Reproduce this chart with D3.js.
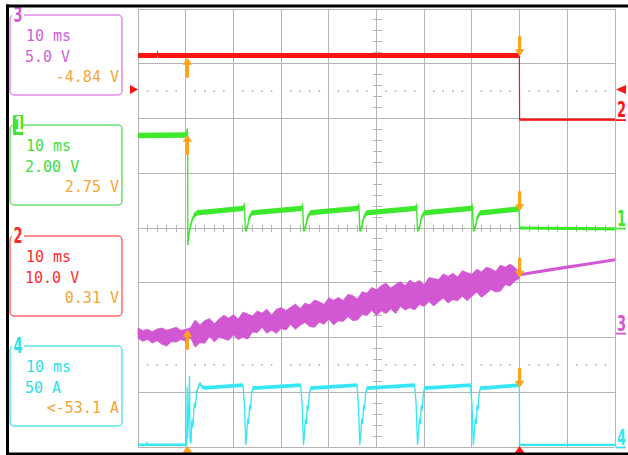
<!DOCTYPE html>
<html><head><meta charset="utf-8">
<script src="https://cdn.jsdelivr.net/npm/d3@7"></script>
<style>html,body{margin:0;padding:0;background:#fff;}svg{display:block;}</style>
</head><body>
<svg id="c" width="628" height="455"></svg>
<script>
// ---------------- DATA ----------------
const timeTicks = [0,10,20,30,40,50,60,70,80,90,100];   // ms (10 ms/div)
const divTicks  = [-4,-3,-2,-1,0,1,2,3,4];               // vertical divisions
const dottedDivs = [2.5,-2.5];

// channel settings (units per division, ground offset in divisions)
const chPerDiv    = {1:2, 2:10, 3:5, 4:50};
const chOffsetDiv = {1:0, 2:1.98, 3:-1.92, 4:-4};

// channel readout boxes (left panel, top to bottom)
const boxChannels = [3,1,2,4];
const boxTimebase = ["10 ms","10 ms","10 ms","10 ms"];
const boxScale    = ["5.0 V","2.00 V","10.0 V","50 A"];
const boxReadout  = ["-4.84 V","2.75 V","0.31 V","<-53.1 A"];

// Channel 2 (red, V)
const ch2 = [[0,11.7],[4.0,11.7],[4.1,12.4],[4.2,11.7],[79.95,11.7],[80,0],[100,0]];
// Channel 1 (green, V)
const ch1 = [[0,3.38],[10.2,3.40],[10.3,3.62],[10.4,3.38],[10.45,-0.62],[10.6,-0.3],[10.8,-0.1],[11.2,0.22],[11.8,0.47],[12.5,0.56],[14,0.58],
 [22.1,0.72],[22.3,0.88],[22.5,-0.07],[22.9,0.0],[23.3,0.37],[23.9,0.55],[25,0.57],
 [34.3,0.72],[34.5,0.86],[34.7,-0.07],[35.1,0],[35.5,0.37],[36.1,0.55],[37,0.57],
 [46.1,0.72],[46.3,0.86],[46.5,-0.07],[46.9,0],[47.3,0.37],[47.9,0.55],[49,0.57],
 [58.2,0.72],[58.4,0.86],[58.6,-0.07],[59.0,0],[59.4,0.37],[60.0,0.55],[61,0.57],
 [69.9,0.72],[70.1,0.86],[70.3,-0.07],[70.7,0],[71.1,0.37],[71.7,0.55],[73,0.57],
 [79.9,0.70],[80.0,0.0],[100,-0.03]];
// Channel 3 (magenta, V): noisy envelope (upper / lower) sampled each 1 ms from 0 to 80 ms
const ch3Hi = [0.46,0.24,0.35,0.13,0.37,0.46,0.27,0.39,0.54,0.26,0.34,0.50,1.19,0.75,1.16,1.32,0.86,1.30,1.63,1.37,
 1.68,1.29,1.90,1.75,1.56,2.02,1.83,2.19,1.65,2.17,2.34,2.07,2.36,2.65,2.24,2.73,2.58,3.02,2.86,2.62,
 3.24,3.00,3.26,2.98,3.53,3.43,3.12,3.78,3.65,4.17,3.95,4.34,4.56,4.12,4.44,4.70,4.34,4.83,4.56,4.80,
 4.41,5.07,4.98,4.89,5.41,5.19,5.46,5.13,5.70,5.52,5.38,5.83,5.60,6.01,5.88,5.64,6.21,6.01,6.31,6.00,5.57];
const ch3Lo = [-0.46,-0.75,-0.58,-0.91,-0.70,-1.01,-1.17,-0.78,-0.81,-0.59,-0.74,-0.45,-1.28,-0.86,-0.93,-0.31,-0.80,-0.38,-0.52,-0.66,
 -0.16,-0.59,-0.37,-0.55,0.10,0.04,0.52,-0.01,0.26,-0.02,0.42,0.28,0.79,0.35,0.71,0.98,0.60,0.53,1.00,0.81,
 1.28,0.75,1.12,1.06,1.50,1.15,1.19,1.69,1.60,2.06,1.62,2.01,1.80,2.20,1.79,2.43,2.12,2.32,2.12,2.62,
 2.44,2.88,2.47,2.87,3.21,2.75,3.05,2.96,3.36,2.96,3.36,3.74,3.27,3.60,3.98,3.76,3.84,4.44,4.30,4.75,5.02];
const ch3SampleMs = 1;
const ch3After = [[80,5.33],[85,5.68],[90,6.02],[95,6.36],[100,6.70]];
// Channel 4 (cyan, A)
const ch4 = [[0,2],[1.8,2],[1.9,3.5],[2.0,2],[10.2,2],[10.3,55],[10.4,8],[10.6,30],[10.8,65],[10.9,6],[11.1,4],[11.3,25],[11.5,18],[11.8,40],[12.0,36],[12.3,50],[12.6,54],[13.0,58],[13.4,55],[14,54],
 [22.0,56.5],[22.3,40],[22.6,2],[22.8,12],[23.0,26],[23.2,21],[23.4,38],[23.6,34],[23.8,48],[24.1,54],[25,54],
 [34.1,56.5],[34.4,40],[34.7,2],[34.9,12],[35.1,26],[35.3,21],[35.5,38],[35.7,34],[35.9,48],[36.2,54],[37,54],
 [45.9,56.5],[46.2,40],[46.5,2],[46.7,12],[46.9,26],[47.1,21],[47.3,38],[47.5,34],[47.7,48],[48.0,54],[49,54],
 [58.0,56.5],[58.3,40],[58.6,2],[58.8,12],[59.0,26],[59.2,21],[59.4,38],[59.6,34],[59.8,48],[60.1,54],[61,54],
 [69.7,56.5],[70.0,40],[70.3,2],[70.5,12],[70.7,26],[70.9,21],[71.1,38],[71.3,34],[71.5,48],[71.8,54],[73,54],
 [79.95,56.5],[80.0,2],[100,2]];

const triggerLevelV = 5.5;          // ch2 trigger level
const triggerTime = 80;             // trigger position marker (ms)
const cursorTimes = [10.35, 80];    // cursor markers (ms)
const arrowsUp   = [[2,11.3],[1,3.41],[3,0.31],[4,1.1]];   // [channel, value] at first cursor
const arrowsDown = [[2,11.56],[1,0.61],[3,5.06],[4,54.1]]; // [channel, value] at second cursor

// ---------------- DRAW ----------------
const col = {1:"#3ee82c", 2:"#ff1414", 3:"#d257d2", 4:"#36e6f4"};
const txtCol = {1:"#3fdc3f", 2:"#ff2e2e", 3:"#cf5fd6", 4:"#2fdfe8"};
const boxCol = {1:"#6fdd6f", 2:"#ff6a6a", 3:"#e08fe6", 4:"#5fe3ee"};
const orange = "#ffa31e";
const orangeTxt = "#f5a535";

const svg = d3.select("#c");
const x = d3.scaleLinear().domain([0,100]).range([138,615]);
const yDiv = d3.scaleLinear().domain([-4,4]).range([447,9]);
const yCh = ch => d3.scaleLinear()
  .domain([(-4 - chOffsetDiv[ch]) * chPerDiv[ch], (4 - chOffsetDiv[ch]) * chPerDiv[ch]])
  .range([447,9]);

// grid
const grid = svg.append("g").attr("stroke","#b4b4b4").attr("stroke-width",1).attr("shape-rendering","crispEdges");
grid.selectAll(".v").data(timeTicks).join("line")
  .attr("x1",d=>x(d)).attr("x2",d=>x(d)).attr("y1",yDiv(4)).attr("y2",yDiv(-4));
grid.selectAll(".h").data(divTicks).join("line")
  .attr("y1",d=>yDiv(d)).attr("y2",d=>yDiv(d)).attr("x1",x(0)).attr("x2",x(100));
// minor ticks on center lines
const minorT = d3.range(0,100.01,2).filter(t=>t%10!==0);
const minorD = d3.range(-4,4.001,0.2).filter(d=>Math.abs(d-Math.round(d))>0.01);
grid.selectAll(".mt").data(minorT).join("line")
  .attr("x1",d=>x(d)).attr("x2",d=>x(d)).attr("y1",yDiv(0)-3).attr("y2",yDiv(0)+4);
grid.selectAll(".md").data(minorD).join("line")
  .attr("y1",d=>yDiv(d)).attr("y2",d=>yDiv(d)).attr("x1",x(50)-4).attr("x2",x(50)+5);
// dotted lines
const dots = [];
dottedDivs.forEach(dv=>minorT.forEach(t=>dots.push([t,dv])));
svg.append("g").selectAll("rect").data(dots).join("rect")
  .attr("x",d=>x(d[0])-0.75).attr("y",d=>yDiv(d[1])-0.75).attr("width",1.5).attr("height",1.5).attr("fill","#a8a8a8");

// traces
const traces = svg.append("g");
function band(data, ch, hw, t0, t1){
  const ys = yCh(ch);
  const seg = data.filter(d=>d[0]>=t0 && d[0]<=t1);
  const area = d3.area().x(d=>x(d[0])).y0(d=>ys(d[1])+hw).y1(d=>ys(d[1])-hw);
  traces.append("path").attr("d",area(seg)).attr("fill",col[ch]);
}
function thin(data, ch, lw){
  const ys = yCh(ch);
  const line = d3.line().x(d=>x(d[0])).y(d=>ys(d[1]));
  traces.append("path").attr("d",line(data)).attr("fill","none").attr("stroke",col[ch]).attr("stroke-width",lw);
}
// ch2
band(ch2,2,2.5,0,79.95); band(ch2,2,1.1,80,100); thin(ch2,2,1.2);
// ch1
band(ch1,1,2.7,0,10.4); band(ch1,1,2.6,10.45,79.9); band(ch1,1,1.6,80,100); thin(ch1,1,1.4);
// ch3 noisy envelope
{
  const ys = yCh(3);
  const env = ch3Hi.map((h,i)=>({t:i*ch3SampleMs, hi:h, lo:ch3Lo[i]}));
  const area = d3.area().x(d=>x(d.t)).y0(d=>ys(d.lo)).y1(d=>ys(d.hi));
  traces.append("path").attr("d",area(env)).attr("fill",col[3]);
  traces.append("path").attr("d",area(env)).attr("fill","none").attr("stroke",col[3]).attr("stroke-width",0.8);
  band(ch3After,3,1.6,80,100);
}
// ch4
band(ch4,4,1.2,0,10.2); band(ch4,4,1.9,10.3,79.95); band(ch4,4,1.1,80,100); thin(ch4,4,1.3);

// arrows
const ar = svg.append("g").attr("fill",orange);
function arrow(t, ch, v, dir){ // dir -1 = pointing up, +1 = pointing down
  const px = x(t), tip = yCh(ch)(v);
  const s = -dir;
  const p = `M${px},${tip} L${px+4.8},${tip+7*s} L${px+1.6},${tip+7*s} L${px+1.6},${tip+20*s} L${px-1.6},${tip+20*s} L${px-1.6},${tip+7*s} L${px-4.8},${tip+7*s} Z`;
  ar.append("path").attr("d",p);
}
arrowsUp.forEach(a=>arrow(cursorTimes[0],a[0],a[1],-1));
arrowsDown.forEach(a=>arrow(cursorTimes[1],a[0],a[1],1));

// trigger markers
const ty = yCh(2)(triggerLevelV);
svg.append("path").attr("d",`M130,${ty-4.5} L138,${ty} L130,${ty+4.5} Z`).attr("fill",col[2]);
svg.append("path").attr("d",`M626,${ty-4.5} L616,${ty} L626,${ty+4.5} Z`).attr("fill",col[2]);
svg.append("path").attr("d",`M${x(triggerTime)},446 L${x(triggerTime)+5},453 L${x(triggerTime)-5},453 Z`).attr("fill",col[2]);

// right-side ground markers
[2,1,3,4].forEach(ch=>{
  const gy = yCh(ch)(0);
  const g = svg.append("g");
  g.append("text").attr("transform",`translate(617,${gy-2.5}) scale(1,1.6)`)
    .attr("font-family","DejaVu Sans").attr("font-weight","bold").attr("font-size",13)
    .attr("fill",col[ch]).text(String(ch));
  g.append("line").attr("x1",616).attr("x2",626).attr("y1",gy+0.5).attr("y2",gy+0.5)
    .attr("stroke",col[ch]).attr("stroke-width",1.8);
});

// left info boxes
const boxTops = [15,125,236,346];
const lineOff = [25.5,46.5,66.5];
boxChannels.forEach((ch,i)=>{
  const T = boxTops[i];
  const g = svg.append("g");
  g.append("rect").attr("x",10).attr("y",T).attr("width",112).attr("height",80).attr("rx",4)
    .attr("fill","none").attr("stroke",boxCol[ch]).attr("stroke-width",1.5);
  if (ch===1){
    g.append("rect").attr("x",13).attr("y",T-10).attr("width",10).attr("height",20).attr("fill",col[1]);
    g.append("text").attr("transform",`translate(14.5,${T+7}) scale(1,1.6)`)
      .attr("font-family","DejaVu Sans").attr("font-weight","bold").attr("font-size",13)
      .attr("fill","#fff").text(String(ch));
  } else {
    g.append("rect").attr("x",12).attr("y",T-3).attr("width",12).attr("height",6).attr("fill","#fff");
    g.append("text").attr("transform",`translate(13.5,${T+6.5}) scale(1,1.6)`)
      .attr("font-family","DejaVu Sans").attr("font-weight","bold").attr("font-size",13)
      .attr("fill",txtCol[ch]).text(String(ch));
  }
  const f = t => t.attr("font-family","DejaVu Sans Mono").attr("font-size",15);
  f(g.append("text").attr("x",26).attr("y",T+lineOff[0]).attr("fill",txtCol[ch]).text(boxTimebase[i]));
  f(g.append("text").attr("x",25).attr("y",T+lineOff[1]).attr("fill",txtCol[ch]).text(boxScale[i]));
  f(g.append("text").attr("x",119).attr("y",T+lineOff[2]).attr("text-anchor","end").attr("fill",orangeTxt).text(boxReadout[i]));
});

// frame
const fr = svg.append("g").attr("stroke","#000").attr("stroke-width",3);
fr.append("line").attr("x1",7.5).attr("x2",7.5).attr("y1",4.5).attr("y2",455);
fr.append("line").attr("x1",6).attr("x2",628).attr("y1",6).attr("y2",6);
fr.append("line").attr("x1",6).attr("x2",628).attr("y1",454).attr("y2",454);
</script>
</body></html>
